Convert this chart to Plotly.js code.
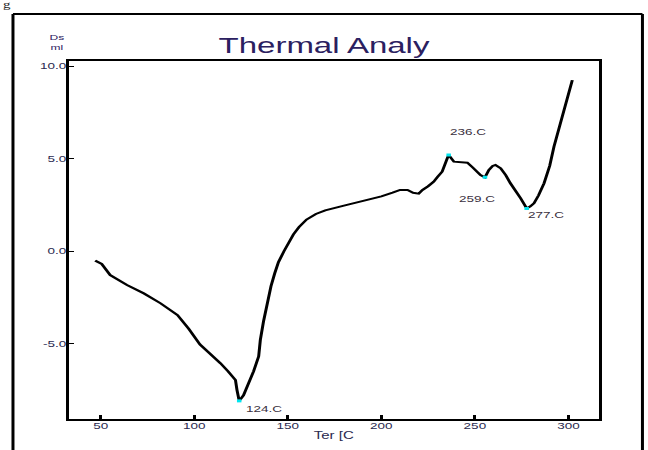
<!DOCTYPE html>
<html>
<head>
<meta charset="utf-8">
<script src="https://cdn.plot.ly/plotly-3.0.1.min.js"></script>
<style>
html,body{margin:0;padding:0;background:#fff;overflow:hidden;width:648px;height:450px;}
#wrap{width:432px;height:450px;transform:scaleX(1.5);transform-origin:0 0;}
</style>
</head>
<body>
<div id="wrap"></div>
<script>
// Temperature (x) and DSC signal (y)
const temp = [47, 50.5, 55, 60, 64, 73, 82, 91, 97, 103, 109, 114, 118, 122, 122.8, 124,
  126.3, 129, 131.7, 134.4, 135.3, 137, 139, 141, 143, 145, 148, 150, 153, 156, 160, 165,
  170, 180, 190, 200, 206, 210, 214, 217, 220, 222, 225, 228, 230, 232.5, 235.2, 236,
  238.8, 242, 246, 249, 251.3, 253, 255.4, 257.5, 259.5, 261, 263.8, 266.5, 269, 272,
  274.5, 277.7, 279.5, 281.6, 284, 287, 290, 292.3, 295, 297.6, 300, 302.1];
const signal = [-0.52, -0.7, -1.3, -1.6, -1.84, -2.29, -2.83, -3.46, -4.2, -5.05, -5.6, -6.07, -6.5, -6.97, -7.5, -8.1,
  -7.8, -7.2, -6.5, -5.7, -4.8, -3.8, -2.8, -1.9, -1.2, -0.6, 0.0, 0.4, 0.9, 1.3, 1.7, 2.0,
  2.2, 2.45, 2.7, 2.95, 3.15, 3.3, 3.3, 3.15, 3.1, 3.3, 3.5, 3.75, 4.0, 4.29, 5.0, 5.19,
  4.83, 4.8, 4.77, 4.5, 4.29, 4.1, 3.98, 4.38, 4.6, 4.65, 4.47, 4.1, 3.66, 3.25,
  2.85, 2.3, 2.4, 2.58, 3.0, 3.66, 4.6, 5.64, 6.6, 7.62, 8.5, 9.24];

// Marked peaks
const peakTemp = [124, 236, 255.4, 277.7];
const peakSignal = [-8.1, 5.19, 3.98, 2.3];
const peakLabels = ["124.C", "236.C", "259.C", "277.C"];

// Axis ticks
const xTickVals = [50, 100, 150, 200, 250, 300];
const xTickText = ["50", "100", "150", "200", "250", "300"];
const yTickVals = [-5, 0, 5, 10];
const yTickText = ["-5.0", "0.0", "5.0", "10.0"];

const labelShifts = [[3, -8, 'left'], [13, 23, 'center'], [-5, -22, 'center'], [13, -7, 'center']];

const traces = [
  {x: temp, y: signal, mode: 'lines', line: {color: '#000', width: 2}, hoverinfo: 'none'},
  {x: peakTemp, y: peakSignal, mode: 'markers', marker: {color: '#00e5ee', size: 3, symbol: 'square'}, hoverinfo: 'none'}
];

const annotations = peakTemp.map((t, i) => ({
  x: t, y: peakSignal[i], xref: 'x', yref: 'y', text: peakLabels[i], showarrow: false,
  xanchor: labelShifts[i][2], yanchor: 'middle', xshift: labelShifts[i][0], yshift: labelShifts[i][1],
  font: {family: 'Arial, Liberation Sans', size: 9, color: '#3a3040'}
}));
annotations.push({xref: 'paper', yref: 'paper', x: -0.023, y: 1.052, text: 'Ds<br>ml', showarrow: false,
  xanchor: 'center', yanchor: 'middle', align: 'center',
  font: {family: 'Arial, Liberation Sans', size: 8, color: '#2b2060'}});
annotations.push({xref: 'paper', yref: 'paper', x: -0.13, y: 1.158, text: 'g', showarrow: false,
  xanchor: 'left', yanchor: 'middle', font: {family: 'Liberation Serif', size: 10, color: '#222'}});

const layout = {
  width: 432, height: 450,
  margin: {l: 46, r: 33.3, t: 61, b: 31},
  paper_bgcolor: '#fff', plot_bgcolor: '#fff',
  showlegend: false,
  title: {text: 'Thermal Analy', x: 0.5, xanchor: 'center', y: 0.9, yanchor: 'middle', yref: 'container',
    font: {family: 'Arial, Liberation Sans', size: 22, color: '#2b2060'}},
  xaxis: {range: [33, 316.1], tickvals: xTickVals, ticktext: xTickText, ticks: 'inside', ticklen: 4,
    tickwidth: 2, tickcolor: '#000', showline: true, linecolor: '#000', linewidth: 2, mirror: true,
    showgrid: false, zeroline: false, ticklabelstandoff: -3,
    tickfont: {family: 'Arial, Liberation Sans', size: 9, color: '#2a2a50'},
    title: {text: 'Ter [C', standoff: 2, font: {family: 'Arial, Liberation Sans', size: 10, color: '#2a2a50'}}},
  yaxis: {range: [-9.08, 10.27], tickvals: yTickVals, ticktext: yTickText, ticks: 'inside', ticklen: 3,
    tickwidth: 1, tickcolor: '#000', showline: true, linecolor: '#000', linewidth: 2, mirror: true,
    showgrid: false, zeroline: false, ticklabelstandoff: -2,
    tickfont: {family: 'Arial, Liberation Sans', size: 9, color: '#2a2a50'}},
  annotations: annotations,
  shapes: [
    {type: 'line', xref: 'paper', yref: 'paper', x0: -0.1058, x1: -0.1058, y0: 1.131, y1: -0.12, line: {color: '#000', width: 2}},
    {type: 'line', xref: 'paper', yref: 'paper', x0: -0.1058, x1: 1.083, y0: 1.131, y1: 1.131, line: {color: '#000', width: 2}},
    {type: 'line', xref: 'paper', yref: 'paper', x0: 1.083, x1: 1.083, y0: 1.131, y1: -0.12, line: {color: '#000', width: 2}}
  ]
};

Plotly.newPlot('wrap', traces, layout, {displayModeBar: false, staticPlot: true});
</script>
</body>
</html>
